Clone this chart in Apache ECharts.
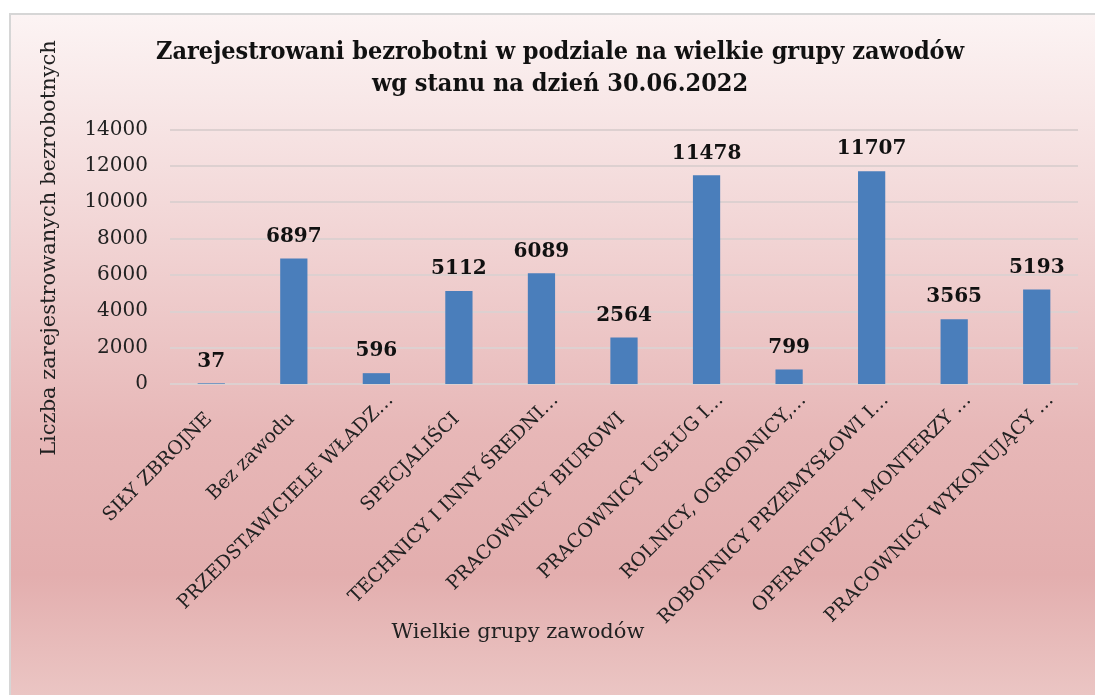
<!DOCTYPE html>
<html>
<head>
<meta charset="utf-8">
<script src="https://cdn.jsdelivr.net/npm/echarts@6/dist/echarts.min.js"></script>
<style>html,body{margin:0;padding:0;background:#fff;}#c{width:1095px;height:695px;}</style>
</head>
<body>
<div id="c"></div>
<script>
const categories = ["SIŁY ZBROJNE","Bez zawodu","PRZEDSTAWICIELE WŁADZ…","SPECJALIŚCI","TECHNICY I INNY ŚREDNI…","PRACOWNICY BIUROWI","PRACOWNICY USŁUG I…","ROLNICY, OGRODNICY,…","ROBOTNICY PRZEMYSŁOWI I…","OPERATORZY I MONTERZY …","PRACOWNICY WYKONUJĄCY …"];
const values = [37,6897,596,5112,6089,2564,11478,799,11707,3565,5193];
const yTicks = {min:0, max:14000, interval:2000};
const titleLines = ["Zarejestrowani bezrobotni w podziale na wielkie grupy zawodów","wg stanu na dzień 30.06.2022"];
const yName = "Liczba zarejestrowanych bezrobotnych";
const xName = "Wielkie grupy zawodów";

const serif = "DejaVu Serif";
const labelFont = {fontFamily:serif, fontSize:19, color:'#222'};
const chart = echarts.init(document.getElementById('c'));
chart.setOption({
  backgroundColor: '#ffffff',
  animation: false,
  title: {
    text: titleLines.join('\n'),
    left: 555, top: 31, textAlign: 'center',
    textStyle: {fontFamily: "DejaVu Serif Condensed", fontWeight: 'bold', fontSize: 25, color: '#111', lineHeight: 32}
  },
  graphic: [
    {type:'rect', z:-100, silent:true, shape:{x:10,y:14,width:1100,height:700},
     style:{stroke:'#d6d6d6', lineWidth:2,
       fill: new echarts.graphic.LinearGradient(0,0,0,1,[
         {offset:0,color:'#fcf4f4'},{offset:0.3,color:'#f2d6d6'},{offset:0.6,color:'#e7b7b7'},{offset:0.8,color:'#e3aeae'},{offset:1,color:'#ecc9c7'}])}},
    {type:'text', x:50, y:248, rotation:Math.PI/2,
     style:{text:yName, fontFamily:serif, fontSize:21, fill:'#222', textAlign:'center', textVerticalAlign:'middle'}},
    {type:'text', x:518, y:633,
     style:{text:xName, fontFamily:serif, fontSize:21, fill:'#222', textAlign:'center', textVerticalAlign:'middle'}}
  ],
  grid: [
    {left:170, right:17, top:129.5, bottom:311},
    {left:184, right:3, top:129.5, bottom:311}
  ],
  xAxis: [{
    type:'category', data:categories, gridIndex:0,
    axisLine:{show:false}, axisTick:{show:false}, axisLabel:{show:false}
  },{
    type:'category', data:categories, gridIndex:1,
    axisLine:{show:false}, axisTick:{show:false}, splitLine:{show:false},
    axisLabel:{rotate:45, interval:0, margin:13, ...labelFont,
      formatter: v => v.endsWith('…') ? '{t|' + v + '}' : '{n|' + v + '}',
      rich:{
        t:{...labelFont},
        n:{...labelFont, padding:[4,25,0,0]}
      }}
  }],
  yAxis: [{
    type:'value', gridIndex:0, min:yTicks.min, max:yTicks.max, interval:yTicks.interval,
    axisLine:{show:false}, axisTick:{show:false},
    axisLabel:{fontFamily:serif, fontSize:20, color:'#222', margin:22, formatter: v => String(v)},
    splitLine:{lineStyle:{color:'#ddd0d0', width:2}}
  },{
    type:'value', gridIndex:1, min:yTicks.min, max:yTicks.max, interval:yTicks.interval, show:false,
    splitLine:{show:false}
  }],
  series: [{
    type:'bar', data:values, barWidth:'33%', xAxisIndex:0, yAxisIndex:0,
    itemStyle:{color:'#4a7ebb'},
    label:{show:true, position:'top', distance:12, fontFamily:serif, fontWeight:'bold', fontSize:20, color:'#111'}
  }]
});
</script>
</body>
</html>
